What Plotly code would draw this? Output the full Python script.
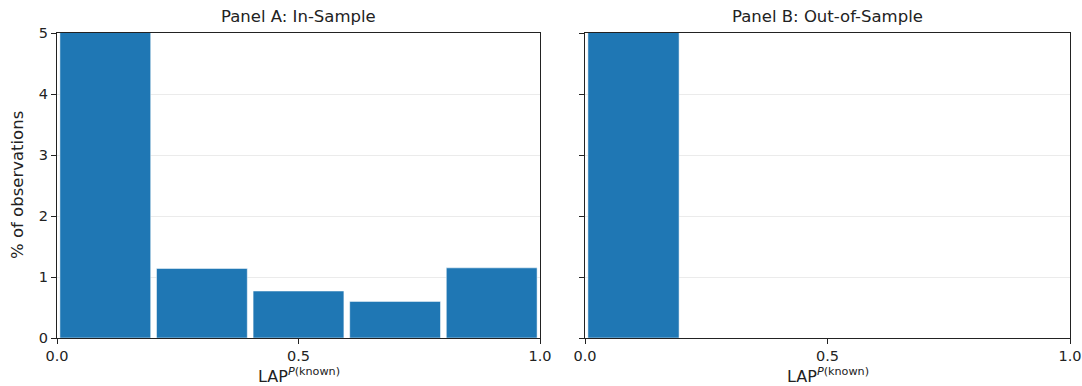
import plotly.graph_objects as go

bin_centers = [0.1, 0.3, 0.5, 0.7, 0.9]
in_sample_pct = [96.34, 1.14, 0.77, 0.60, 1.15]
out_sample_pct = [100.0, 0.0, 0.0, 0.0, 0.0]
panel_titles = ["Panel A: In-Sample", "Panel B: Out-of-Sample"]
x_ticks = [0.0, 0.5, 1.0]
x_tick_text = ["0.0", "0.5", "1.0"]
y_ticks = [0, 1, 2, 3, 4, 5]

BLUE = "#1f77b4"
FONT = "DejaVu Sans"
bar_w = 0.2 * 0.94

W, H = 1082, 386


def px(xr):
    return xr / W


def py(yr):
    return (H - yr) / H


fig = go.Figure()
fig.add_trace(go.Bar(x=bin_centers, y=in_sample_pct, width=bar_w, marker=dict(color=BLUE, line=dict(color="rgba(255,255,255,0.5)", width=1)), xaxis="x", yaxis="y", showlegend=False, hoverinfo="skip"))
fig.add_trace(go.Bar(x=bin_centers, y=out_sample_pct, width=bar_w, marker=dict(color=BLUE, line=dict(color="rgba(255,255,255,0.5)", width=1)), xaxis="x2", yaxis="y2", showlegend=False, hoverinfo="skip"))

yd = [py(338), py(33)]
xd1 = [px(57), px(540)]
xd2 = [px(585), px(1070)]

axis_common = dict(showline=True, linecolor="#222", linewidth=1, mirror=True, ticks="outside", ticklen=5, tickcolor="#222",
                   tickfont=dict(family=FONT, size=14.5, color="#222"), zeroline=False, automargin=False,
                   ticklabeloverflow="allow")

fig.update_layout(
    width=W, height=H, margin=dict(l=0, r=0, t=0, b=0),
    paper_bgcolor="white", plot_bgcolor="white", barmode="overlay",
    font=dict(family=FONT, color="#222"),
    xaxis=dict(domain=xd1, range=[0, 1], tickvals=x_ticks, ticktext=x_tick_text, showgrid=False, anchor="y", **axis_common),
    xaxis2=dict(domain=xd2, range=[0, 1], tickvals=x_ticks, ticktext=x_tick_text, showgrid=False, anchor="y2", **axis_common),
    yaxis=dict(domain=yd, range=[0, 5], tickvals=y_ticks, showgrid=True, gridcolor="#ebebeb", gridwidth=1, anchor="x", **axis_common),
    yaxis2=dict(domain=yd, range=[0, 5], tickvals=y_ticks, showticklabels=False, showgrid=True, gridcolor="#ebebeb", gridwidth=1, anchor="x2", **axis_common),
)

for dom, title in zip([xd1, xd2], panel_titles):
    cx = (dom[0] + dom[1]) / 2
    fig.add_annotation(x=cx, y=py(16), xref="paper", yref="paper", text=title, showarrow=False,
                       font=dict(family=FONT, size=16.5, color="#222"), xanchor="center", yanchor="middle")
    fig.add_annotation(x=cx, y=py(375), xref="paper", yref="paper", text="LAP<sup><i>P</i>(known)</sup>", showarrow=False,
                       font=dict(family=FONT, size=16, color="#222"), xanchor="center", yanchor="middle")

fig.add_annotation(x=px(17), y=py(185), xref="paper", yref="paper", text="% of observations", textangle=-90,
                   showarrow=False, font=dict(family=FONT, size=16.5, color="#222"), xanchor="center", yanchor="middle")

fig.write_html("out.html", config={"displayModeBar": False},
               post_script="document.body.style.margin='0';document.body.style.overflow='hidden';")
